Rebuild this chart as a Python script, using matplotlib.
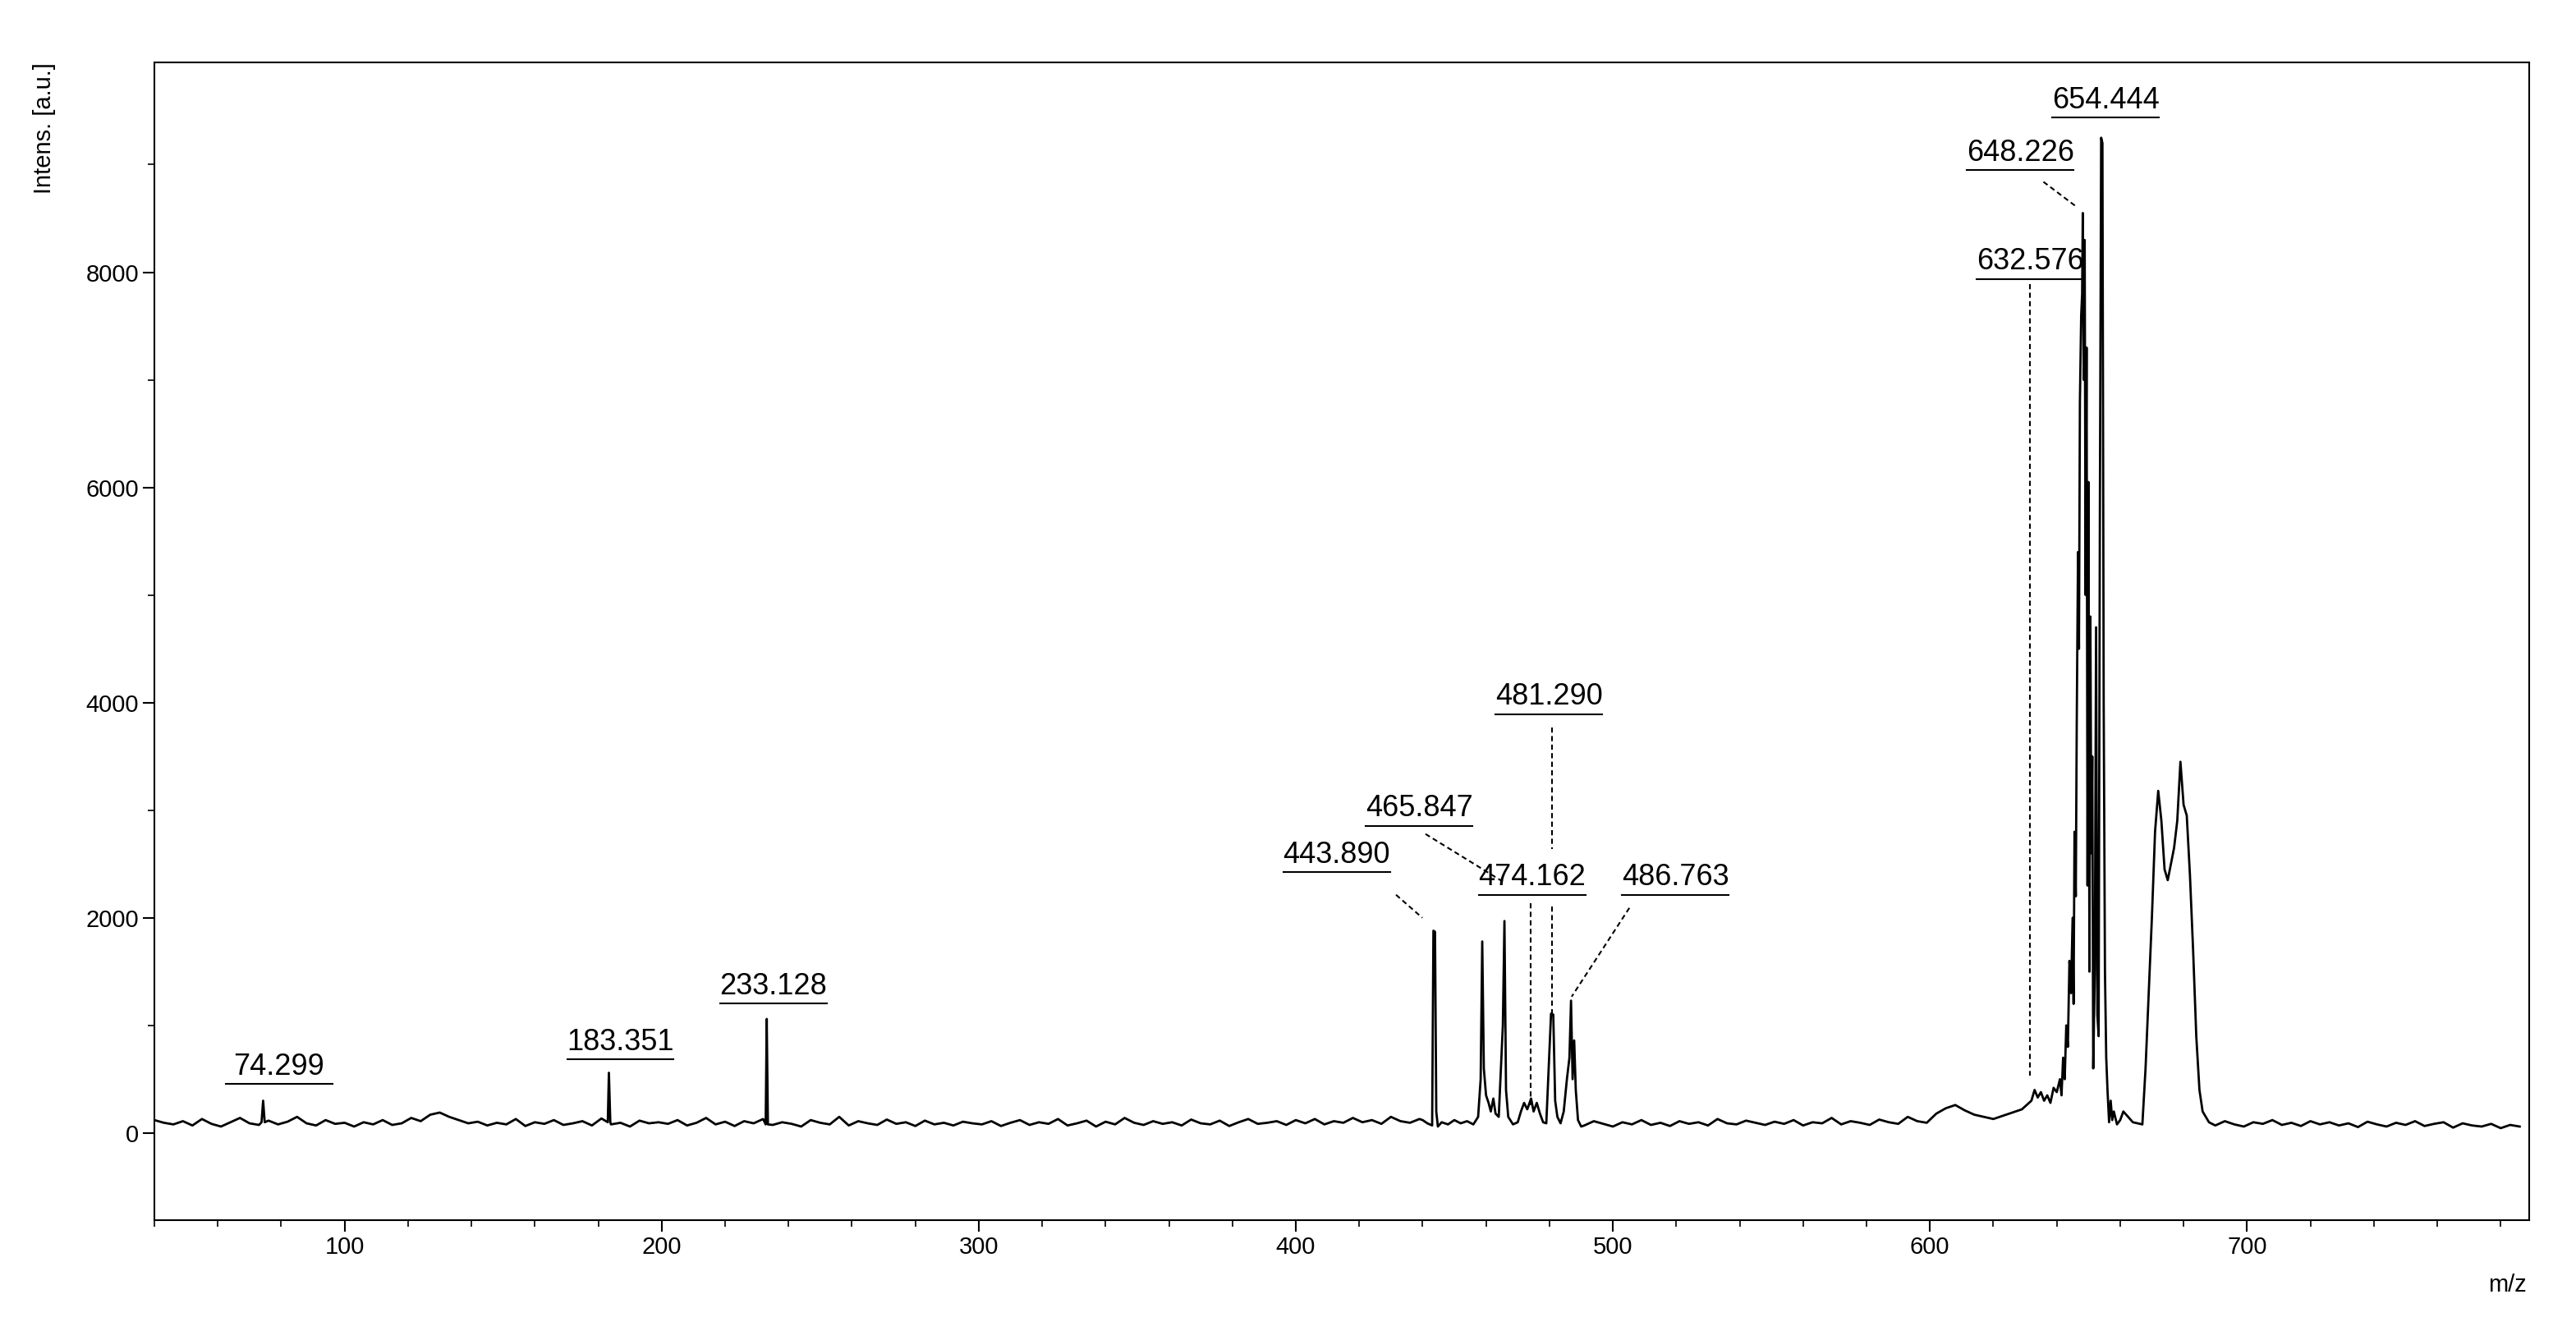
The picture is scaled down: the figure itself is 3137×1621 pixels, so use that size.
import matplotlib
matplotlib.use("Agg")
import matplotlib.pyplot as plt
from matplotlib.ticker import MultipleLocator

plt.rcParams['font.family'] = ['Liberation Sans', 'DejaVu Sans']

# ---- data ----
base_mz_1 = list(range(40, 101, 3))
base_i_1 = [120,95,80,110,70,130,85,60,100,140,90,75,115,80,105,150,90,70,120,85,95]
base_mz_2 = list(range(103, 200, 3))
base_i_2 = [60,100,80,120,75,90,140,110,170,190,150,120,90,105,70,95,80,130,65,100,85,120,75,90,110,70,135,80,95,60,115,90,100]
base_mz_3 = list(range(202, 299, 3))
base_i_3 = [85,120,70,95,140,80,105,65,110,90,130,75,100,85,60,120,95,80,150,70,110,90,75,125,85,100,65,115,80,95,70,105,90]
base_mz_4 = list(range(301, 401, 3))
base_i_4 = [80,110,65,95,120,75,100,85,130,70,90,115,60,105,80,140,95,75,110,85,100,70,125,90,80,115,65,100,130,85,95,110,75,120]
base_mz_5 = list(range(403, 440, 3))
base_i_5 = [90,130,80,110,95,140,100,120,85,150,110,95,130]
base_mz_6 = list(range(491, 600, 3))
base_i_6 = [70,110,85,60,100,80,120,75,95,65,110,85,100,70,130,90,80,115,95,75,105,85,120,70,100,90,140,80,110,95,75,125,100,85,150,110,95]
base_mz_7 = list(range(602, 631, 3))
base_i_7 = [180,230,260,210,170,150,130,160,190,220]
base_mz_8 = list(range(690, 789, 3))
base_i_8 = [70,110,80,60,100,85,120,75,95,65,110,80,100,70,90,55,105,80,60,95,75,110,65,85,100,50,90,70,60,85,45,75,60]

small_peaks_mz = [73.8, 74.3, 74.8, 183.0, 183.35, 183.8, 232.8, 233.13, 233.5]
small_peaks_i = [100, 300, 100, 100, 560, 100, 80, 1060, 80]

mid_mz = [440,441.5,443.0,443.4,443.9,444.3,444.8,446,448,450,452,454,456,457.5,458.3,458.8,459.3,460,460.8,461.5,
          462.3,463,464,465.3,465.8,466.3,467,468.5,470,471,472,473,474.2,475,476,477,478,479,480.5,481.2,481.8,
          482.5,483.5,484.5,485.5,486.3,486.8,487.3,487.8,488.3,489,490]
mid_i = [120,90,70,1880,1870,200,60,100,80,120,90,110,80,150,500,1780,600,350,280,200,
         320,180,150,1000,1970,400,150,80,100,200,280,220,320,200,280,180,100,90,1110,1100,300,
         150,90,200,500,700,1230,500,860,400,120,60]

cl_mz = [632,633,634,635,636,637,638,639,640,641,641.5,642,642.5,643,643.5,644,644.5,645,645.3,645.6,646,646.3,
         646.7,647,647.3,647.7,648.0,648.2,648.5,648.8,649.1,649.4,649.7,650.0,650.3,650.6,650.9,651.2,651.5,652,
         652.4,652.8,653.2,653.6,654.0,654.4,654.8,655.2,655.6,656,656.5,657,657.5,658,659,660]
cl_i = [300,400,330,380,300,350,280,420,380,500,350,700,500,1000,800,1600,1300,2000,1200,2800,2200,3800,
        5400,4500,6800,7600,7800,8550,7000,8300,5000,7300,2300,6050,1500,4800,2600,3500,600,1500,
        4700,1100,900,5800,9250,9200,4000,1500,700,400,100,300,120,200,80,120]

broad_mz = [661,664,667,668,670,671,672,673,674,675,676,677,678,679,680,681,682,683,684,685,686,688]
broad_i = [200,100,80,600,2000,2800,3180,2900,2450,2350,2500,2650,2900,3450,3050,2950,2400,1700,900,400,200,100]

# labels: text, text centre x, underline y, leader segments
labels = ["74.299","183.351","233.128","443.890","465.847","474.162","481.290","486.763","632.576","648.226","654.444"]
label_x = [79.3,187.0,235.2,412.9,438.9,474.6,479.8,519.7,631.6,628.5,655.4]
label_y = [458,687,1206,2427,2855,2214,3893,2214,7939,8947,9435]
leaders = [
    [(431.6,2214),(439.9,2000)],
    [(440.9,2779),(465.3,2336)],
    [(474.1,2137),(474.1,229)],
    [(480.8,3770),(480.8,2641)],
    [(480.8,2107),(480.8,1115)],
    [(505.2,2092),(487.0,1267)],
    [(631.6,7893),(631.6,534)],
    [(635.8,8840),(646.1,8611)],
]

# ---- assemble trace ----
pts = []
for m, i in [(base_mz_1, base_i_1), (base_mz_2, base_i_2), (base_mz_3, base_i_3), (base_mz_4, base_i_4),
             (base_mz_5, base_i_5), (base_mz_6, base_i_6), (base_mz_7, base_i_7), (base_mz_8, base_i_8),
             (small_peaks_mz, small_peaks_i), (mid_mz, mid_i), (cl_mz, cl_i), (broad_mz, broad_i)]:
    pts += list(zip(m, i))
pts.sort()
mz = [p[0] for p in pts]
inten = [p[1] for p in pts]

fig = plt.figure(figsize=(31.37, 16.21), dpi=100)
ax = fig.add_axes([188/3137, 1-1486/1621, (3080-188)/3137, (1486-76)/1621])
ax.plot(mz, inten, color='black', lw=2.0)
ax.set_xlim(40, 789)
ax.set_ylim(-810, 9950)

ax.xaxis.set_major_locator(MultipleLocator(100))
ax.xaxis.set_minor_locator(MultipleLocator(20))
ax.yaxis.set_major_locator(MultipleLocator(2000))
ax.yaxis.set_minor_locator(MultipleLocator(1000))
ax.tick_params(which='major', direction='out', length=10, width=1.5, labelsize=21)
ax.tick_params(which='minor', direction='out', length=6, width=1.2)
for s in ax.spines.values():
    s.set_linewidth(1.5)

for t, x, y in zip(labels, label_x, label_y):
    ax.text(x, y + 25, t, ha='center', va='bottom', fontsize=26)
    ax.plot([x - 16.8, x + 16.8], [y, y], color='black', lw=1.5)
for seg in leaders:
    ax.plot([seg[0][0], seg[1][0]], [seg[0][1], seg[1][1]], color='black', lw=1.5, ls=(0, (3, 2)))

fig.text(40/3137, 1-76/1621, "Intens. [a.u.]", rotation=90, ha='left', va='top', fontsize=21)
fig.text(3030/3137, 1-1565/1621, "m/z", ha='left', va='center', fontsize=21)

fig.savefig("out.png", dpi=100)
